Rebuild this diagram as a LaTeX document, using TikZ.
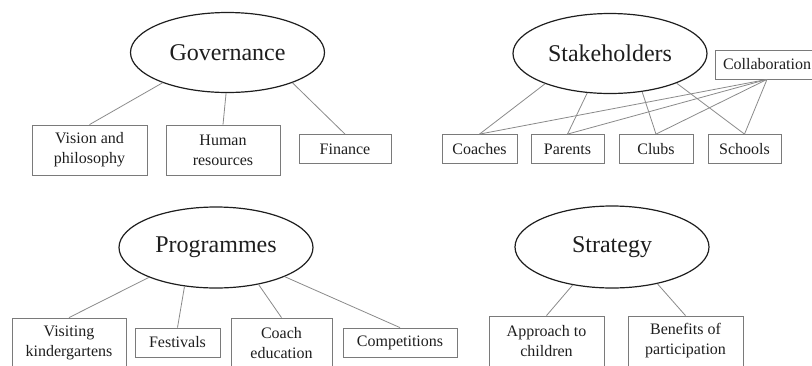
\documentclass[tikz,border=0pt]{standalone}
\usepackage{fontspec}
\setmainfont{Liberation Serif}
\usepackage{tikz}
\usetikzlibrary{shapes.geometric}
\definecolor{ink}{HTML}{1E1E1E}
\definecolor{edge}{HTML}{7A7A7A}
\definecolor{wire}{HTML}{8A8A8A}
\tikzset{
  topic/.style={ellipse, draw=ink, line width=1.2pt, inner sep=0pt,
    minimum width=194pt, minimum height=80pt, text=ink,
    font=\fontsize{24}{28}\selectfont},
  item/.style={rectangle, draw=edge, line width=0.8pt, inner sep=0pt,
    minimum height=29pt, text=ink, align=center,
    font=\fontsize{16}{20}\selectfont},
  tall/.style={item, minimum height=50pt},
  link/.style={draw=wire, line width=0.8pt}
}
\begin{document}
\begin{tikzpicture}[x=1pt, y=-1pt]
  \useasboundingbox (0,0) rectangle (812,365);

  % governance
  \node[topic] (gov) at (227.5,52.5) {Governance};
  \node[tall, minimum width=115pt] (vis) at (89.5,150) {Vision and\\philosophy};
  \node[tall, minimum width=114pt] (hum) at (223,150) {Human\\resources};
  \node[item, minimum width=92pt] (fin) at (345,149) {Finance};
  \draw[link] (gov.205) -- (vis.north);
  \draw[link] (gov.268) -- (hum.north);
  \draw[link] (gov.335) -- (fin.north);

  % stakeholders
  \node[topic] (stk) at (610,53.5) {Stakeholders};
  \node[item, minimum width=104pt] (col) at (767,64.5) {Collaboration};
  \node[item, minimum width=75pt] (coa) at (479.5,149) {Coaches};
  \node[item, minimum width=73pt] (par) at (567.5,149) {Parents};
  \node[item, minimum width=74pt] (clu) at (656,149) {Clubs};
  \node[item, minimum width=73pt] (sch) at (744.5,149) {Schools};
  \draw[link] (stk.205) -- (coa.north);
  \draw[link] (stk.240) -- (par.north);
  \draw[link] (stk.310) -- (clu.north);
  \draw[link] (stk.336) -- (sch.north);
  \foreach \t in {coa,par,clu,sch}
    \draw[link] (col.south) -- (\t.north);

  % programmes
  \node[topic, minimum height=81pt] (prg) at (216,247.5) {Programmes};
  \node[tall, minimum width=114pt] (vk) at (69,343) {Visiting\\kindergartens};
  \node[item, minimum width=85pt] (fes) at (177.5,342.5) {Festivals};
  \node[tall, minimum width=101pt] (ced) at (281.5,343) {Coach\\education};
  \node[item, minimum width=114pt] (cmp) at (400,342.5) {Competitions};
  \draw[link] (prg.204) -- (vk.north);
  \draw[link] (prg.231) -- (fes.north);
  \draw[link] (prg.319) -- (ced.north);
  \draw[link] (prg.337) -- (cmp.north);

  % strategy
  \node[topic, minimum height=82pt] (str) at (612,247) {Strategy};
  \node[tall, minimum width=115pt] (app) at (546.5,341) {Approach to\\children};
  \node[tall, minimum width=115pt] (ben) at (685.5,341) {Benefits of\\participation};
  \draw[link] (str.224) -- (app.north);
  \draw[link] (str.321) -- (ben.north);
\end{tikzpicture}
\end{document}
